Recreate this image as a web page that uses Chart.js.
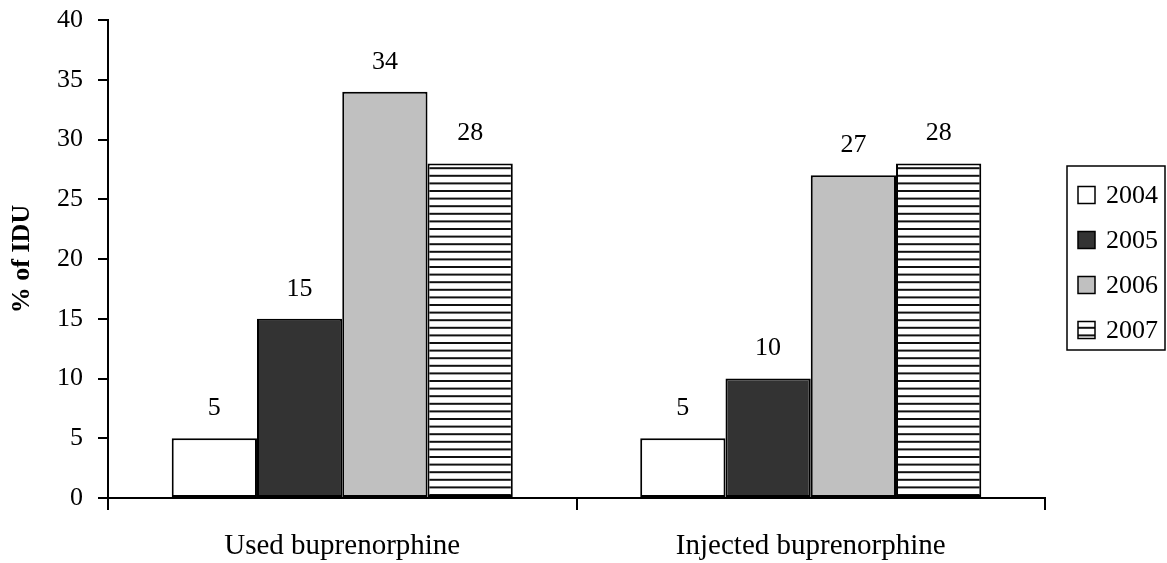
<!DOCTYPE html>
<html>
<head>
<meta charset="utf-8">
<title>Buprenorphine use among IDU, 2004–2007</title>
<script src="https://cdn.jsdelivr.net/npm/chart.js@4/dist/chart.umd.min.js"></script>
<style>
  html, body { margin: 0; padding: 0; background: #ffffff; }
  #wrap { width: 1167px; height: 563px; }
</style>
</head>
<body>
<div id="wrap"><canvas id="chart" width="1167" height="563"></canvas></div>
<script>
// Groups on the x axis
const categories = ['Used buprenorphine', 'Injected buprenorphine'];
// Survey years (one bar per year in each group)
const years = ['2004', '2005', '2006', '2007'];
// Percentage of IDU for each year, per group
const values2004 = [5, 5];
const values2005 = [15, 10];
const values2006 = [34, 27];
const values2007 = [28, 28];
// Y axis range
const yMin = 0;
const yMax = 40;
const yStep = 5;
const yTitle = '% of IDU';

const FONT = '"Liberation Serif", "Times New Roman", serif';

// Horizontal-stripe fill for the 2007 series
function makeStripePattern() {
  const c = document.createElement('canvas');
  c.width = 8;
  c.height = 38;
  const g = c.getContext('2d');
  g.fillStyle = '#ffffff';
  g.fillRect(0, 0, c.width, c.height);
  g.strokeStyle = '#111111';
  g.lineWidth = 2;
  for (let k = 0; k < 5; k++) {
    const y = k * 7.6 + 1;
    g.beginPath();
    g.moveTo(0, y);
    g.lineTo(c.width, y);
    g.stroke();
  }
  return g.createPattern(c, 'repeat');
}
const stripes = makeStripePattern();

const fills = ['#ffffff', '#333333', '#c0c0c0', stripes];
const seriesValues = [values2004, values2005, values2006, values2007];

const datasets = years.map((yr, i) => ({
  label: yr,
  data: seriesValues[i],
  backgroundColor: fills[i],
  borderColor: '#000000',
  borderWidth: 2,
  borderSkipped: false,
  categoryPercentage: 0.728,
  barPercentage: 1.0
}));

// Value printed above every bar
const barValueLabels = {
  id: 'barValueLabels',
  afterDatasetsDraw(chart) {
    const ctx = chart.ctx;
    ctx.save();
    ctx.font = '26px ' + FONT;
    ctx.fillStyle = '#000000';
    ctx.textAlign = 'center';
    ctx.textBaseline = 'middle';
    chart.data.datasets.forEach((ds, di) => {
      const meta = chart.getDatasetMeta(di);
      meta.data.forEach((bar, idx) => {
        ctx.fillText(String(ds.data[idx]), bar.x, bar.y - 30);
      });
    });
    ctx.restore();
  }
};

// Boxed legend on the right-hand side
const boxedLegend = {
  id: 'boxedLegend',
  afterDraw(chart) {
    const ctx = chart.ctx;
    const box = { left: 1067, top: 166, right: 1165, bottom: 350 };
    ctx.save();
    ctx.strokeStyle = '#000000';
    ctx.lineWidth = 1.5;
    ctx.strokeRect(box.left, box.top, box.right - box.left, box.bottom - box.top);
    ctx.font = '26px ' + FONT;
    ctx.textAlign = 'left';
    ctx.textBaseline = 'middle';
    chart.data.datasets.forEach((ds, i) => {
      const cy = 195 + i * 45;
      const sx = 1078, size = 17;
      ctx.fillStyle = ds.backgroundColor;
      ctx.fillRect(sx, cy - size / 2, size, size);
      ctx.lineWidth = 1.5;
      ctx.strokeStyle = '#000000';
      ctx.strokeRect(sx, cy - size / 2, size, size);
      ctx.fillStyle = '#000000';
      ctx.fillText(ds.label, 1106, cy + 1);
    });
    ctx.restore();
  }
};

new Chart(document.getElementById('chart'), {
  type: 'bar',
  data: { labels: categories, datasets },
  options: {
    responsive: false,
    animation: false,
    layout: { padding: { left: 0, right: 122, top: 20, bottom: 0 } },
    plugins: {
      legend: { display: false },
      tooltip: { enabled: false }
    },
    scales: {
      x: {
        afterFit(scale) { scale.height = 65; },
        grid: {
          offset: true,
          drawOnChartArea: false,
          drawTicks: true,
          tickLength: 12,
          color: '#000000',
          lineWidth: 2
        },
        border: { display: true, color: '#000000', width: 2 },
        ticks: {
          color: '#000000',
          font: { family: FONT, size: 29 },
          padding: 19,
          maxRotation: 0
        }
      },
      y: {
        min: yMin,
        max: yMax,
        afterFit(scale) {
          scale.width = 108;
          scale.paddingTop = 0;
          scale.paddingBottom = 0;
        },
        grid: {
          drawOnChartArea: false,
          drawTicks: true,
          tickLength: 10,
          color: '#000000',
          lineWidth: 2
        },
        border: { display: true, color: '#000000', width: 2 },
        ticks: {
          stepSize: yStep,
          color: '#000000',
          font: { family: FONT, size: 26 },
          padding: 15
        },
        title: {
          display: true,
          text: yTitle,
          color: '#000000',
          font: { family: FONT, size: 26, weight: 'bold' },
          padding: { top: 7, bottom: 0 }
        }
      }
    }
  },
  plugins: [barValueLabels, boxedLegend]
});
</script>
</body>
</html>
